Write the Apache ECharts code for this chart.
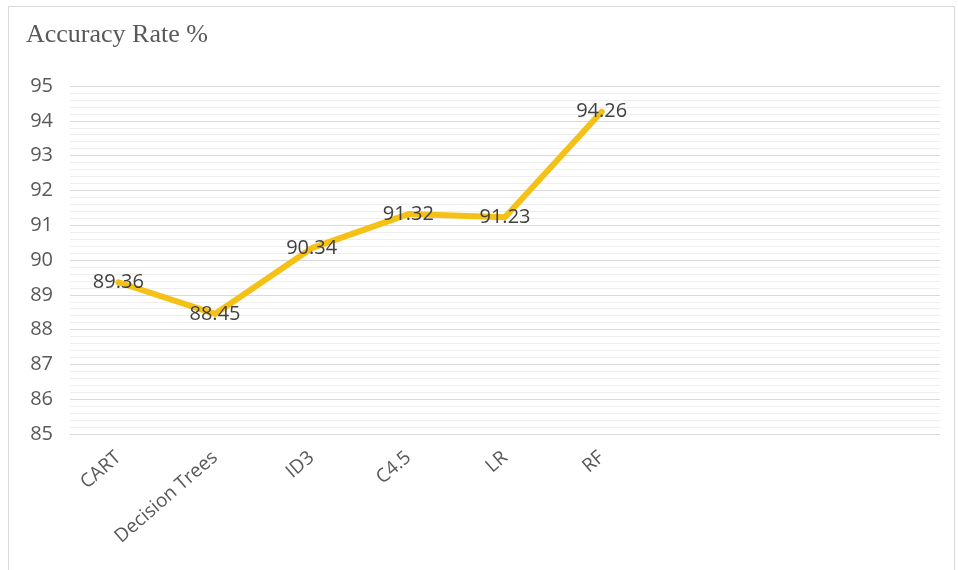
<!DOCTYPE html>
<html>
<head>
<meta charset="utf-8">
<script src="https://cdn.jsdelivr.net/npm/echarts@6/dist/echarts.min.js"></script>
<style>
  html, body { margin: 0; padding: 0; background: #ffffff; }
  #chart { width: 958px; height: 570px; }
</style>
</head>
<body>
<div id="chart"></div>
<script>
// Classifier accuracy comparison
const categories = ['CART', 'Decision Trees', 'ID3', 'C4.5', 'LR', 'RF', '', '', ''];
const accuracy = [89.36, 88.45, 90.34, 91.32, 91.23, 94.26];
const yTicks = [85, 86, 87, 88, 89, 90, 91, 92, 93, 94, 95];

const chart = echarts.init(document.getElementById('chart'), null, { renderer: 'canvas' });

const option = {
  animation: false,
  backgroundColor: '#ffffff',
  title: {
    text: 'Accuracy Rate %',
    left: 21,
    top: 17,
    textStyle: {
      fontFamily: 'Liberation Serif, DejaVu Serif, serif',
      fontWeight: 'normal',
      fontSize: 26,
      color: '#595959'
    }
  },
  graphic: [{
    type: 'rect',
    shape: { x: 8.5, y: 6.5, width: 946, height: 570 },
    style: { fill: 'none', stroke: '#d9d9d9', lineWidth: 1 },
    silent: true
  }],
  grid: { left: 70, right: 18, top: 86, bottom: 136 },
  xAxis: {
    type: 'category',
    data: categories,
    boundaryGap: true,
    axisLine: { show: true, lineStyle: { color: '#d9d9d9', width: 1 } },
    axisTick: { show: false },
    axisLabel: {
      rotate: 41,
      interval: 0,
      margin: 21,
      fontFamily: 'Open Sans, Noto Sans, sans-serif',
      fontSize: 19,
      color: '#595959'
    }
  },
  yAxis: {
    type: 'value',
    min: yTicks[0],
    max: yTicks[yTicks.length - 1],
    interval: 1,
    axisLine: { show: false },
    axisTick: { show: false },
    axisLabel: {
      margin: 17,
      fontFamily: 'Open Sans, Noto Sans, sans-serif',
      fontSize: 20,
      color: '#595959'
    },
    splitLine: { show: true, lineStyle: { color: '#d9d9d9', width: 1 } },
    minorTick: { show: false, splitNumber: 5 },
    minorSplitLine: { show: true, lineStyle: { color: '#eeeeee', width: 1 } }
  },
  series: [{
    type: 'line',
    data: accuracy,
    symbol: 'circle',
    symbolSize: 1,
    showSymbol: true,
    itemStyle: { color: 'rgba(245,193,22,0)' },
    lineStyle: { color: '#F5C116', width: 6, cap: 'round', join: 'round' },
    label: {
      show: true,
      position: 'inside',
      fontFamily: 'Open Sans, Noto Sans, sans-serif',
      fontSize: 20,
      color: '#404040'
    },
    labelLayout: { hideOverlap: false }
  }]
};

chart.setOption(option);
</script>
</body>
</html>
